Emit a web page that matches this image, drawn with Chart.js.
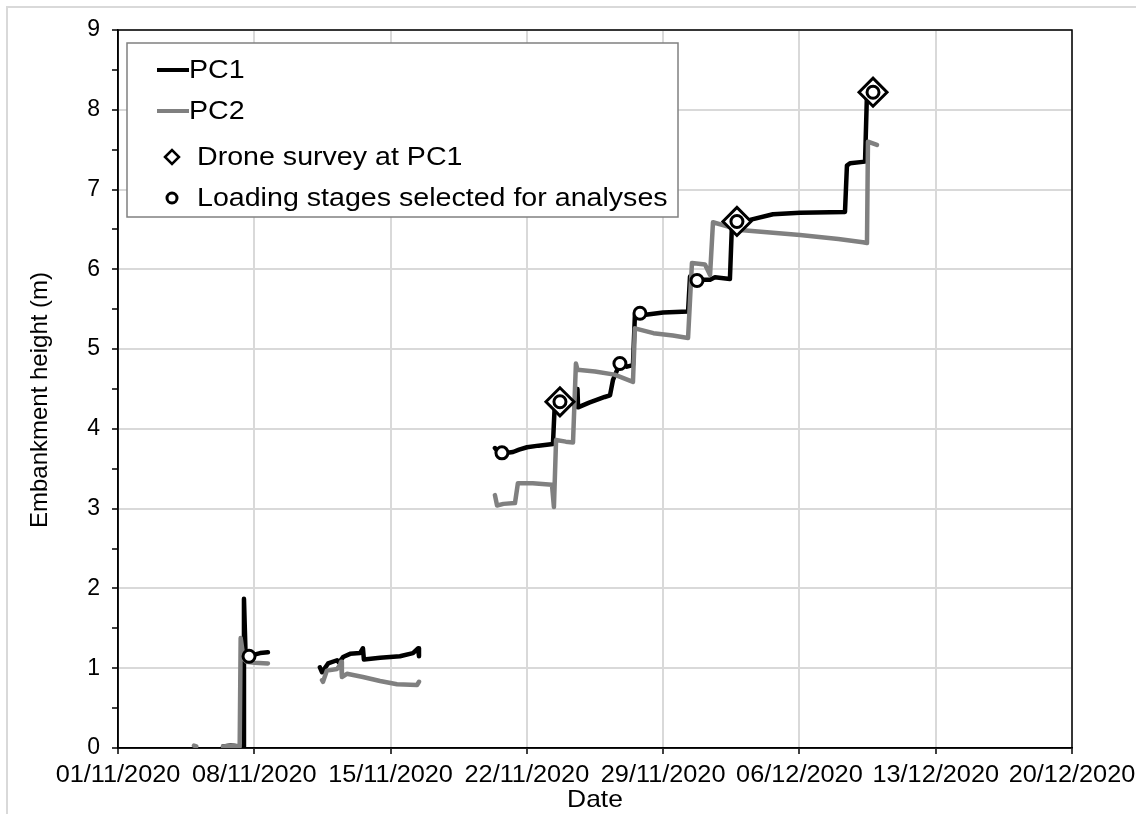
<!DOCTYPE html>
<html>
<head>
<meta charset="utf-8">
<script src="https://cdn.jsdelivr.net/npm/chart.js@4.4.1/dist/chart.umd.min.js"></script>
<style>
  html, body { margin: 0; padding: 0; background: #ffffff; }
  #wrap { width: 1136px; height: 814px; }
</style>
</head>
<body>
<div id="wrap"><canvas id="c" width="1136" height="814"></canvas></div>
<script>
// x values are days counted from 01/11/2020
const tickLabels = ['01/11/2020', '08/11/2020', '15/11/2020', '22/11/2020',
                    '29/11/2020', '06/12/2020', '13/12/2020', '20/12/2020'];

// PC1 embankment height (m); null marks a gap in the record
const pc1Days = [
  5.40, 5.80, 6.20, 6.45, 6.47, 6.55, 6.73, 7.00, 7.30, 7.70, 7.70,
  10.37, 10.48, 10.79, 11.25, 11.35, 11.56, 11.92, 12.43, 12.58, 12.63, 13.46, 14.48, 15.15, 15.41, 15.46, 15.46,
  19.36, 19.50, 19.72, 20.00, 20.29, 20.60, 21.01, 21.60, 22.34, 22.44, 22.70, 23.30, 23.55, 23.60, 23.63,
  24.20, 25.00, 25.27, 25.42, 25.78, 26.14, 26.45, 26.55, 26.81, 27.10, 28.00, 29.28, 29.38, 29.74,
  30.00, 30.41, 30.66, 31.43, 31.54, 31.79, 32.46, 33.64, 35.03, 37.34, 37.44, 37.60, 38.37, 38.47, 38.78
];
const pc1Height = [
  0.02, 0.03, 0.02, 0.02, 1.87, 1.20, 1.15, 1.17, 1.19, 1.20, null,
  1.01, 0.95, 1.06, 1.10, 1.07, 1.14, 1.18, 1.19, 1.25, 1.11, 1.13, 1.15, 1.19, 1.25, 1.15, null,
  3.76, 3.72, 3.70, 3.70, 3.71, 3.74, 3.77, 3.79, 3.81, 4.34, 4.34, 4.32, 4.30, 4.50, 4.27,
  4.33, 4.40, 4.42, 4.61, 4.82, 4.78, 4.80, 5.43, 5.45, 5.43, 5.46, 5.47, 5.91, 5.86,
  5.87, 5.87, 5.90, 5.88, 6.60, 6.60, 6.62, 6.69, 6.71, 6.72, 7.30, 7.33, 7.35, 8.21, 8.22
];

// PC2 embankment height (m)
const pc2Days = [
  3.90, 4.02, 4.02,
  5.39, 5.90, 6.25, 6.30, 6.45, 6.60, 7.00, 7.70, 7.70,
  10.48, 10.53, 10.73, 11.25, 11.40, 11.46, 11.50, 11.76, 12.58, 13.46, 14.33, 15.36, 15.46, 15.46,
  19.36, 19.47, 19.80, 20.39, 20.54, 21.30, 22.29, 22.39, 22.50, 23.00, 23.37, 23.52, 23.60, 24.50,
  25.50, 26.45, 26.55, 27.50, 28.50, 29.28, 29.48, 30.15, 30.41, 30.56, 31.43, 32.10, 35.03, 37.00,
  38.26, 38.47, 38.52, 38.98
];
const pc2Height = [
  0.03, 0.02, null,
  0.02, 0.03, 0.02, 1.38, 1.12, 1.08, 1.07, 1.06, null,
  0.85, 0.83, 0.97, 0.99, 1.04, 1.08, 0.89, 0.93, 0.89, 0.84, 0.80, 0.79, 0.83, null,
  3.17, 3.04, 3.06, 3.07, 3.32, 3.32, 3.30, 3.02, 3.86, 3.84, 3.83, 4.82, 4.74, 4.72,
  4.68, 4.59, 5.26, 5.20, 5.17, 5.14, 6.08, 6.06, 5.93, 6.59, 6.53, 6.49, 6.43, 6.38,
  6.34, 6.33, 7.60, 7.56
];

// Drone surveys at PC1
const droneDays = [22.70, 31.79, 38.78];
const droneHeight = [4.34, 6.60, 8.22];

// Loading stages selected for analyses
const stageDays = [6.73, 19.72, 22.70, 25.78, 26.81, 29.74, 31.79, 38.78];
const stageHeight = [1.15, 3.70, 4.34, 4.82, 5.45, 5.86, 6.60, 8.22];

const FONT = '"Liberation Sans", Arial, sans-serif';
const WIDEN = 1.1; // the figure's lettering is set slightly wide

function toPoints(xs, ys) {
  return xs.map((x, i) => ({ x: x, y: ys[i] }));
}

// text drawn with a horizontal stretch, anchored at (x, y)
function wideText(ctx, text, x, y, align, size) {
  ctx.save();
  ctx.font = size + 'px ' + FONT;
  ctx.textAlign = align;
  ctx.textBaseline = 'middle';
  ctx.translate(x, y);
  ctx.scale(WIDEN, 1);
  ctx.fillText(text, 0, 0);
  ctx.restore();
}

const pageFrame = {
  id: 'pageFrame',
  beforeDraw(chart) {
    const ctx = chart.ctx;
    ctx.save();
    ctx.fillStyle = '#ffffff';
    ctx.fillRect(0, 0, chart.width, chart.height);
    ctx.strokeStyle = '#d9d9d9';
    ctx.lineWidth = 2;
    ctx.beginPath();
    ctx.moveTo(7, chart.height);
    ctx.lineTo(7, 7);
    ctx.lineTo(chart.width, 7);
    ctx.stroke();
    ctx.restore();
  }
};

const plotBorder = {
  id: 'plotBorder',
  beforeDatasetsDraw(chart) {
    const { ctx, chartArea: a } = chart;
    ctx.save();
    ctx.strokeStyle = '#000000';
    ctx.lineWidth = 1.5;
    ctx.strokeRect(a.left, a.top, a.right - a.left, a.bottom - a.top);
    ctx.restore();
  }
};

// date labels under the x ticks and both axis titles
const axisText = {
  id: 'axisText',
  afterDraw(chart) {
    const ctx = chart.ctx;
    const xs = chart.scales.x;
    const a = chart.chartArea;
    ctx.save();
    ctx.fillStyle = '#000000';
    tickLabels.forEach((lab, i) => {
      wideText(ctx, lab, xs.getPixelForValue(i * 7), 776, 'center', 23);
    });
    wideText(ctx, 'Date', (a.left + a.right) / 2, 800, 'center', 24);
    ctx.translate(40, 400);
    ctx.rotate(-Math.PI / 2);
    ctx.font = '24px ' + FONT;
    ctx.textAlign = 'center';
    ctx.textBaseline = 'middle';
    ctx.fillText('Embankment height (m)', 0, 0);
    ctx.restore();
  }
};

const boxLegend = {
  id: 'boxLegend',
  afterDraw(chart) {
    const ctx = chart.ctx;
    ctx.save();
    ctx.fillStyle = '#ffffff';
    ctx.fillRect(127, 43, 551, 174);
    ctx.strokeStyle = '#808080';
    ctx.lineWidth = 1.5;
    ctx.strokeRect(127, 43, 551, 174);

    const rows = [70, 111, 157, 198];
    // line series
    [['#000000', 'PC1'], ['#808080', 'PC2']].forEach((s, i) => {
      ctx.strokeStyle = s[0];
      ctx.lineWidth = 4;
      ctx.beginPath();
      ctx.moveTo(157, rows[i]);
      ctx.lineTo(189, rows[i]);
      ctx.stroke();
      ctx.fillStyle = '#000000';
      wideText(ctx, s[1], 189, rows[i] + 1, 'left', 26);
    });
    // diamond marker
    ctx.strokeStyle = '#000000';
    ctx.lineWidth = 2.5;
    ctx.fillStyle = '#ffffff';
    ctx.beginPath();
    ctx.moveTo(165, rows[2]);
    ctx.lineTo(172, rows[2] - 7);
    ctx.lineTo(179, rows[2]);
    ctx.lineTo(172, rows[2] + 7);
    ctx.closePath();
    ctx.fill();
    ctx.stroke();
    // circle marker
    ctx.lineWidth = 3;
    ctx.beginPath();
    ctx.arc(172, rows[3], 5, 0, Math.PI * 2);
    ctx.fill();
    ctx.stroke();

    ctx.fillStyle = '#000000';
    wideText(ctx, 'Drone survey at PC1', 197, rows[2] + 1, 'left', 26);
    wideText(ctx, 'Loading stages selected for analyses', 197, rows[3] + 1, 'left', 26);
    ctx.restore();
  }
};

new Chart(document.getElementById('c'), {
  type: 'line',
  data: {
    datasets: [
      {
        label: 'Loading stages selected for analyses',
        type: 'scatter',
        data: toPoints(stageDays, stageHeight),
        pointStyle: 'circle',
        pointRadius: 6,
        pointBorderWidth: 3,
        pointBackgroundColor: '#ffffff',
        pointBorderColor: '#000000',
        showLine: false
      },
      {
        label: 'Drone survey at PC1',
        type: 'scatter',
        data: toPoints(droneDays, droneHeight),
        pointStyle: 'rectRot',
        pointRadius: 14,
        pointBorderWidth: 3,
        pointBackgroundColor: '#ffffff',
        pointBorderColor: '#000000',
        showLine: false
      },
      {
        label: 'PC2',
        data: toPoints(pc2Days, pc2Height),
        borderColor: '#808080',
        borderWidth: 4.5,
        pointRadius: 0,
        tension: 0,
        spanGaps: false,
        borderJoinStyle: 'round',
        borderCapStyle: 'round'
      },
      {
        label: 'PC1',
        data: toPoints(pc1Days, pc1Height),
        borderColor: '#000000',
        borderWidth: 4.5,
        pointRadius: 0,
        tension: 0,
        spanGaps: false,
        borderJoinStyle: 'round',
        borderCapStyle: 'round'
      }
    ]
  },
  options: {
    responsive: false,
    devicePixelRatio: 1,
    animation: false,
    events: [],
    layout: { padding: { left: 0, top: 30, right: 64, bottom: 0 } },
    plugins: {
      legend: { display: false },
      tooltip: { enabled: false }
    },
    scales: {
      x: {
        type: 'linear',
        min: 0,
        max: 49,
        afterFit(scale) { scale.height = 66; },
        ticks: {
          stepSize: 7,
          autoSkip: false,
          maxRotation: 0,
          padding: 4,
          font: { family: FONT, size: 23 },
          callback: () => ''
        },
        grid: {
          color: '#d9d9d9',
          lineWidth: 2,
          tickColor: '#000000',
          tickLength: 6,
          tickWidth: 1.5
        },
        border: { display: true, color: '#000000', width: 1.5 },
        title: { display: false }
      },
      y: {
        type: 'linear',
        min: 0,
        max: 9,
        afterFit(scale) { scale.width = 118; },
        ticks: {
          stepSize: 0.5,
          autoSkip: false,
          padding: 12,
          color: '#000000',
          font: { family: FONT, size: 23 },
          callback: (v) => (Number.isInteger(v) ? String(v) : '')
        },
        grid: {
          color: (c) => (c.tick && Number.isInteger(c.tick.value) ? '#d9d9d9' : 'rgba(0,0,0,0)'),
          lineWidth: 2,
          tickColor: '#000000',
          tickLength: 6,
          tickWidth: 1.5
        },
        border: { display: true, color: '#000000', width: 1.5 },
        title: { display: false }
      }
    }
  },
  plugins: [pageFrame, plotBorder, axisText, boxLegend]
});
</script>
</body>
</html>
